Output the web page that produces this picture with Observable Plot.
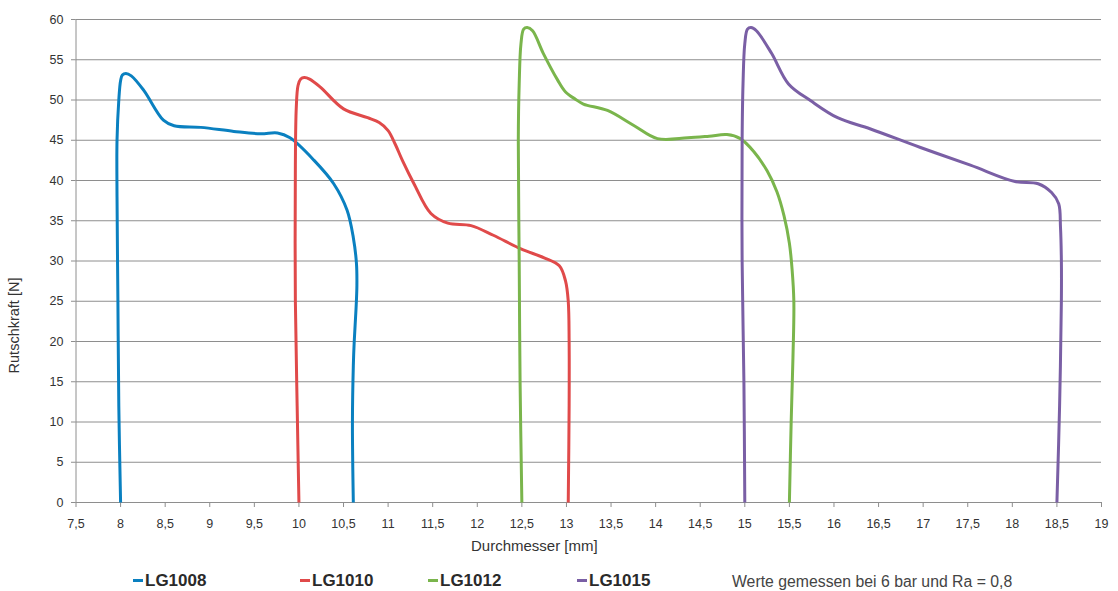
<!DOCTYPE html>
<html><head><meta charset="utf-8">
<script src="https://cdn.jsdelivr.net/npm/d3@7"></script>
<script src="https://cdn.jsdelivr.net/npm/@observablehq/plot@0.6"></script>
<style>
body{margin:0;background:#fff;font-family:"Liberation Sans",Arial,sans-serif;}
#wrap{position:relative;width:1118px;height:591px;overflow:hidden;}
#chart{position:absolute;left:0;top:0;}
.leg{position:absolute;top:571px;font-size:17px;line-height:20px;color:#333;white-space:nowrap;}
.leg b{font-weight:bold;color:#2a2a2a;}
.note{font-size:15.8px;color:#444;top:572px;}
.dash{display:inline-block;width:10px;height:3px;vertical-align:middle;margin-right:2px;position:relative;top:-1px;}
</style></head>
<body><div id="wrap"><div id="chart"></div></div>
<script>
const seriesNames = ["LG1008","LG1010","LG1012","LG1015"];
const seriesColors = ["#0a80c0","#e04a4a","#7ab54c","#7a5fa5"];
const note = "Werte gemessen bei 6 bar und Ra = 0,8";
const xTicks = [7.5,8,8.5,9,9.5,10,10.5,11,11.5,12,12.5,13,13.5,14,14.5,15,15.5,16,16.5,17,17.5,18,18.5,19];
const yTicks = [0,5,10,15,20,25,30,35,40,45,50,55,60];

const x1008 = [8.0,7.98,7.97,7.96,7.96,7.98,8.0,8.02,8.06,8.12,8.26,8.48,8.6,8.9,9.27,9.57,9.76,9.9,10.17,10.39,10.54,10.61,10.645,10.65,10.64,10.62,10.61,10.6,10.61];
const y1008 = [0,12,25,38,45,50,52.4,53.1,53.3,53.0,51.2,47.5,46.8,46.6,46.1,45.8,45.9,45.3,42.5,39.6,36.3,32.9,29.7,27,24,20,17,10,0];

const x1010 = [10.0,9.98,9.96,9.96,9.97,9.99,10.02,10.06,10.12,10.24,10.5,10.77,10.9,11.0,11.08,11.16,11.29,11.48,11.67,11.93,12.18,12.49,12.75,12.92,12.99,13.02,13.03,13.03,13.02];
const y1010 = [0,12,25,42,49,51.8,52.6,52.8,52.6,51.6,48.9,47.8,47.2,46.2,44.5,42.5,39.6,35.9,34.7,34.4,33.2,31.5,30.4,29.4,27.5,25,20,12,0];

const x1012 = [12.5,12.48,12.47,12.46,12.47,12.49,12.52,12.56,12.62,12.74,12.9,12.99,13.1,13.19,13.46,13.76,14.02,14.36,14.6,14.8,14.95,15.1,15.25,15.36,15.44,15.5,15.53,15.55,15.54,15.52,15.5];
const y1012 = [0,15,30,45,52,57,58.8,59.0,58.6,55.8,52.5,51.0,50.1,49.5,48.7,46.8,45.2,45.3,45.5,45.7,45.2,43.6,41.2,38.6,35.6,32.2,29,25,18,10,0];

const x1015 = [15.0,14.99,14.97,14.97,14.98,15.0,15.03,15.07,15.13,15.3,15.49,15.74,16.04,16.41,16.97,17.53,18.02,18.29,18.44,18.52,18.54,18.55,18.55,18.53,18.5];
const y1015 = [0,15,30,45,52,57,58.8,59.0,58.6,55.8,52.0,49.9,47.8,46.4,44.1,41.9,39.9,39.6,38.5,37.1,34.2,30.1,25,12,0];

const seriesX = [x1008,x1010,x1012,x1015];
const seriesY = [y1008,y1010,y1012,y1015];
const rows = seriesNames.flatMap((name,s) => seriesX[s].map((x,i) => ({series:name, order:i, x, y:seriesY[s][i]})));

const fmt = d => String(d).replace(".", ",");
const gray = "#8e8e8e";
const font = "'Liberation Sans', Arial, sans-serif";

const plot = Plot.plot({
  width:1118, height:562,
  marginLeft:75.5, marginRight:17, marginTop:19, marginBottom:60,
  style:{fontFamily:font, fontSize:"12.5px", color:"#333", background:"#fff"},
  x:{domain:[7.5,19]},
  y:{domain:[0,60]},
  color:{domain:seriesNames, range:seriesColors},
  marks:[
    Plot.gridY(yTicks,{stroke:gray, strokeOpacity:1, strokeWidth:1}),
    Plot.ruleX([7.5],{stroke:gray}),
    Plot.ruleY([0],{stroke:gray}),
    Plot.axisX(xTicks,{tickSize:5, tickPadding:12, tickFormat:fmt, stroke:gray, fill:"#333", label:null, fontSize:12.5, style:{letterSpacing:"1px"}}),
    Plot.axisY(yTicks,{tickSize:4.5, tickPadding:8, stroke:gray, fill:"#333", label:null, fontSize:12.5, style:{letterSpacing:"1px"}}),
    Plot.line(rows,{x:"x", y:"y", z:"series", stroke:"series", strokeWidth:3, curve:"catmull-rom", strokeLinejoin:"round", strokeLinecap:"butt"}),
    Plot.text(["Rutschkraft [N]"],{frameAnchor:"bottom-left", dx:-57, dy:-177, rotate:-90, textAnchor:"middle", fontSize:14.5, fill:"#333", style:{letterSpacing:"0.3px"}}),
    Plot.text(["Durchmesser [mm]"],{frameAnchor:"bottom-left", dx:395, dy:48, textAnchor:"start", fontSize:15, fill:"#333", style:{letterSpacing:"0.6px"}})
  ]
});
document.getElementById("chart").appendChild(plot);

const legLeft = [133,300,428,577];
const wrap = document.getElementById("wrap");
seriesNames.forEach((n,i) => {
  const d = document.createElement("div");
  d.className = "leg";
  d.style.left = legLeft[i] + "px";
  d.innerHTML = `<span class="dash" style="background:${seriesColors[i]}"></span><b>${n}</b>`;
  wrap.appendChild(d);
});
const nd = document.createElement("div");
nd.className = "leg note";
nd.style.left = "732px";
nd.textContent = note;
wrap.appendChild(nd);
</script></body></html>
